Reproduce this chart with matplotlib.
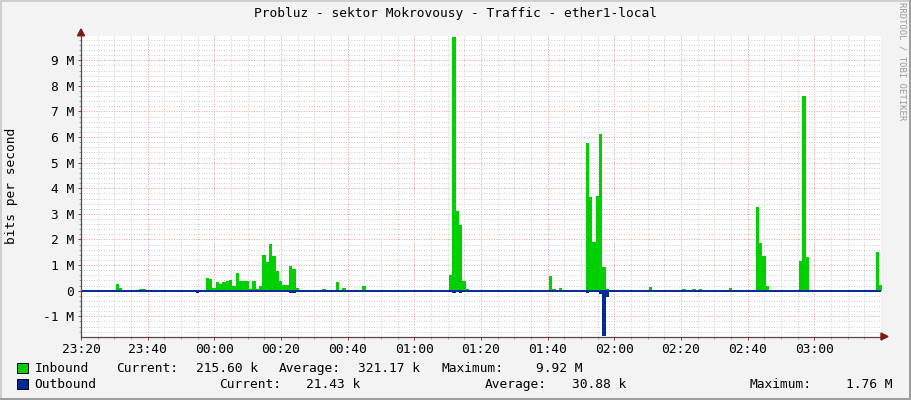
import numpy as np
import matplotlib
matplotlib.use("Agg")
import matplotlib.pyplot as plt
from matplotlib.patches import Polygon, Rectangle
from matplotlib.lines import Line2D

plt.rcParams['font.family'] = ['DejaVu Sans Mono']

W, H = 911, 400
title = "Probluz - sektor Mokrovousy - Traffic - ether1-local"
ylabel = "bits per second"
watermark = "RRDTOOL / TOBI OETIKER"

# minutes after 23:20, one sample per minute
n_minutes = 240
xtick_minutes = [0, 20, 40, 60, 80, 100, 120, 140, 160, 180, 200, 220]
xtick_labels = ["23:20", "23:40", "00:00", "00:20", "00:40", "01:00",
                "01:20", "01:40", "02:00", "02:20", "02:40", "03:00"]
ytick_values = [-1, 0, 1, 2, 3, 4, 5, 6, 7, 8, 9]
ytick_labels = ["-1 M", "0", "1 M", "2 M", "3 M", "4 M", "5 M", "6 M",
                "7 M", "8 M", "9 M"]

# (minute, Mbit/s), everything else ~0
inbound = [(8, 0.04), (9, 0.04), (10, 0.27), (11, 0.12), (17, 0.08), (18, 0.05),
           (19, 0.02), (20, 0.02), (22, 0.04), (23, 0.04), (26, 0.03), (28, 0.03),
           (30, 0.03), (31, 0.03), (32, 0.03), (33, 0.03),
           (37, 0.49), (38, 0.45), (39, 0.10), (40, 0.34), (41, 0.26), (42, 0.33),
           (43, 0.36), (44, 0.42), (45, 0.17), (46, 0.71), (47, 0.39), (48, 0.39),
           (49, 0.36), (50, 0.07), (51, 0.36), (52, 0.05), (53, 0.17), (54, 1.40),
           (55, 1.12), (56, 1.83), (57, 1.34), (58, 0.75), (59, 0.36), (60, 0.23),
           (61, 0.23), (62, 0.95), (63, 0.86), (64, 0.10), (65, 0.03), (66, 0.03),
           (68, 0.03), (72, 0.06), (73, 0.03), (74, 0.03), (76, 0.34), (77, 0.04),
           (78, 0.10), (79, 0.03), (80, 0.03), (81, 0.03), (82, 0.03), (83, 0.03),
           (84, 0.20), (85, 0.03), (86, 0.03), (90, 0.03), (91, 0.03), (92, 0.03),
           (93, 0.03), (94, 0.03), (95, 0.03), (101, 0.03),
           (110, 0.62), (111, 9.92), (112, 3.12), (113, 2.57), (114, 0.36), (115, 0.05),
           (120, 0.03), (121, 0.03), (122, 0.03), (123, 0.03), (124, 0.03),
           (127, 0.03), (128, 0.03), (135, 0.03), (136, 0.03),
           (140, 0.56), (141, 0.08), (143, 0.11), (144, 0.03),
           (151, 5.78), (152, 3.67), (153, 1.92), (154, 3.71), (155, 6.13), (156, 0.91),
           (157, 0.05), (159, 0.03), (162, 0.03), (164, 0.03),
           (170, 0.14), (171, 0.03), (172, 0.03), (177, 0.03), (180, 0.05), (181, 0.03),
           (182, 0.03), (183, 0.05), (184, 0.03), (185, 0.05), (186, 0.03),
           (192, 0.03), (193, 0.03), (194, 0.10), (195, 0.03),
           (202, 3.25), (203, 1.86), (204, 1.34), (205, 0.19), (208, 0.04),
           (212, 0.03), (214, 0.03), (215, 1.17), (216, 7.60), (217, 1.30),
           (221, 0.04), (223, 0.03), (224, 0.03), (226, 0.03), (227, 0.03),
           (233, 0.03), (234, 0.03), (236, 0.03), (238, 1.53), (239, 0.2156)]

outbound = [(20, 0.06), (34, 0.08), (37, 0.05), (38, 0.05), (40, 0.07), (41, 0.07),
            (42, 0.03), (43, 0.03), (44, 0.03), (46, 0.02), (50, 0.03), (51, 0.04),
            (53, 0.04), (54, 0.05), (55, 0.05), (56, 0.02), (57, 0.02), (59, 0.03),
            (60, 0.05), (61, 0.05), (62, 0.08), (63, 0.08), (76, 0.06),
            (110, 0.06), (111, 0.08), (112, 0.06), (113, 0.08), (114, 0.06),
            (140, 0.06), (151, 0.09), (152, 0.04), (153, 0.04), (154, 0.04),
            (155, 0.12), (156, 1.76), (157, 0.25),
            (202, 0.06), (203, 0.06), (204, 0.06), (215, 0.06), (216, 0.06),
            (217, 0.06), (238, 0.05), (239, 0.0214)]

legend_in = [("Inbound", 34.5), ("Current:", 116.5), ("215.60 k", 196.5),
             ("Average:", 279.0), ("321.17 k", 358.0), ("Maximum:", 441.5),
             ("9.92 M", 536.0)]
legend_out = [("Outbound", 34.5), ("Current:", 219.5), ("21.43 k", 306.5),
              ("Average:", 485.0), ("30.88 k", 572.0), ("Maximum:", 749.5),
              ("1.76 M", 846.0)]

green = "#00CF00"
blue = "#002A97"
fs = 9.3


def fxy(x, y):
    return x / W, 1 - y / H


yin = np.zeros(n_minutes)
for m, v in inbound:
    yin[m] = v
yout = np.zeros(n_minutes)
for m, v in outbound:
    yout[m] = -v
xs = np.arange(n_minutes + 1) + 0.4
yin = np.append(yin, yin[-1])
yout = np.append(yout, yout[-1])

fig = plt.figure(figsize=(W / 100, H / 100), dpi=100, facecolor="#F3F3F3")
top_px, bot_px = 35.7, 336.5
ax = fig.add_axes([81 / W, (H - bot_px) / H, 800 / W, (bot_px - top_px) / H])
ax.set_facecolor("white")
ax.set_xlim(0, n_minutes)
ax.set_ylim(-1.79, 9.96)

ax.fill_between(xs, 0, yin, step="post", color=green, lw=0, zorder=3)
ax.fill_between(xs, 0, yout, step="post", color=blue, lw=0, zorder=3)
ax.axhline(0, color=blue, lw=1.4, zorder=4)

ax.set_xticks(xtick_minutes)
ax.set_xticklabels(xtick_labels)
ax.set_xticks(np.arange(0, n_minutes + 1, 5), minor=True)
ax.set_yticks(ytick_values)
ax.set_yticklabels(ytick_labels)
ax.set_yticks(np.arange(-1.6, 9.97, 0.2), minor=True)

ax.grid(which="minor", color="#D2D2D2", ls=(0, (1, 1.5)), lw=0.72, zorder=1)
ax.grid(which="major", color="#F2A2A2", ls=(0, (1, 1.5)), lw=0.72, zorder=2)
ax.set_axisbelow(True)

ax.tick_params(which="major", length=2.2, width=0.72, color="#C03030",
               labelsize=fs, pad=3)
ax.tick_params(axis="x", which="major", pad=2.5)
ax.tick_params(which="minor", length=1.5, width=0.72, color="#A0A0A0")
for s in ["top", "right"]:
    ax.spines[s].set_visible(False)
for s in ["left", "bottom"]:
    ax.spines[s].set_color("#5a4848")
    ax.spines[s].set_linewidth(0.9)
    ax.spines[s].set_zorder(6)

# arrows at the axis ends
arrow_c = "#801818"
fig.add_artist(Polygon([fxy(81, 29), fxy(77.5, 35.8), fxy(84.5, 35.8)],
                       closed=True, color=arrow_c, transform=fig.transFigure))
fig.add_artist(Polygon([fxy(888, 336.5), fxy(881, 333), fxy(881, 340)],
                       closed=True, color=arrow_c, transform=fig.transFigure))

# texts
fig.text(*fxy(455, 14), title, ha="center", va="center", fontsize=fs)
fig.text(*fxy(12, 186), ylabel, ha="center", va="center", rotation=90, fontsize=fs)
fig.text(*fxy(902, 61), watermark, ha="center", va="center", rotation=270,
         fontsize=6.4, color="#9A9A9A")

for row, color, yy in [(legend_in, green, 368.3), (legend_out, blue, 384.3)]:
    fig.add_artist(Rectangle(fxy(17.3, yy + 5), 11 / W, 10 / H, facecolor=color,
                             edgecolor="black", lw=0.72, transform=fig.transFigure))
    for txt, x in row:
        fig.text(*fxy(x, yy), txt, ha="left", va="center", fontsize=fs)

# shaded frame
fig.add_artist(Line2D([0, 1], [1 - 1 / H, 1 - 1 / H], color="#CFCFCF", lw=1.44,
                      transform=fig.transFigure))
fig.add_artist(Line2D([1 / W, 1 / W], [0, 1], color="#CFCFCF", lw=1.44,
                      transform=fig.transFigure))
fig.add_artist(Line2D([0, 1], [1.5 / H, 1.5 / H], color="#9E9E9E", lw=2.2,
                      transform=fig.transFigure))
fig.add_artist(Line2D([1 - 1 / W, 1 - 1 / W], [0, 1], color="#9E9E9E", lw=1.44,
                      transform=fig.transFigure))

fig.savefig("out.png", dpi=100, facecolor=fig.get_facecolor())
